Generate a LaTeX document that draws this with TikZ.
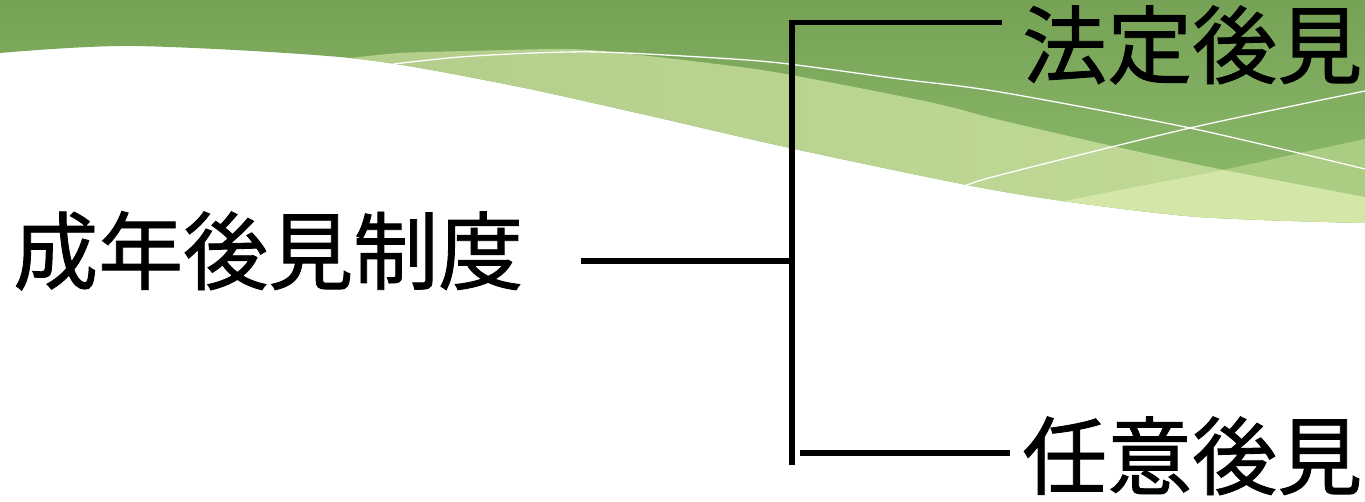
\documentclass[tikz,border=0pt]{standalone}
\usepackage{fontspec}
\newfontfamily\jp[FakeBold=1]{Noto Sans CJK JP}
\definecolor{dkA}{HTML}{76A256}
\definecolor{dkB}{HTML}{8EBC6C}
\definecolor{lgA}{HTML}{B3CE8A}
\definecolor{lgB}{HTML}{C1DA98}
\definecolor{regc}{HTML}{AACD83}
\definecolor{lightest}{HTML}{D4E7A8}
\begin{document}
\begin{tikzpicture}[x=1pt,y=-1pt,
  lbl/.style={font=\jp\fontsize{85}{85}\selectfont, inner sep=0pt, anchor=base west},
  conn/.style={line width=5.2pt, line cap=butt, line join=miter},
  wline/.style={white, line width=1.3pt}]
\useasboundingbox (0,0) rectangle (1365,501);
% dark green wave
\shade[top color=dkA, bottom color=dkB] (0,0) -- (1365,0) -- plot[smooth] coordinates {(1365,223) (1200,217) (1063,201) (967,185) (790,148) (633,112) (500,83) (350,58) (134,46) (0,53)} -- cycle;
\begin{scope}
\clip (0,0) -- (1365,0) -- plot[smooth] coordinates {(1365,223) (1200,217) (1063,201) (967,185) (790,148) (633,112) (500,83) (350,58) (134,46) (0,53)} -- cycle;
% light band
\shade[left color=lgA, right color=lgB] plot[smooth] coordinates {(320,61) (350,58) (400,53) (467,51) (567,49) (620,53) (700,62) (780,73) (929,102) (1000,120) (1117,147) (1224,170) (1365,197)} -- (1365,320) -- (320,320) -- cycle;
% rising band
\fill[regc] plot[smooth] coordinates {(1000,213) (1063,201) (1150,184) (1223,170) (1300,153) (1365,139)} -- (1365,320) -- (1000,320) -- cycle;
\begin{scope}
\clip plot[smooth] coordinates {(320,61) (350,58) (400,53) (467,51) (567,49) (620,53) (700,62) (780,73) (929,102) (1000,120) (1117,147) (1224,170) (1365,197)} -- (1365,320) -- (320,320) -- cycle;
\fill[lightest] plot[smooth] coordinates {(1000,213) (1063,201) (1150,184) (1223,170) (1300,153) (1365,139)} -- (1365,320) -- (1000,320) -- cycle;
\end{scope}
% thin white lines
\draw[wline] plot[smooth] coordinates {(380,66) (393,64) (460,57) (533,53) (600,52) (700,57) (780,63) (900,79) (1000,92) (1190,128) (1365,169)};
\draw[wline] plot[smooth] coordinates {(940,192) (967,185) (1000,175) (1190,128) (1365,91)};
\end{scope}
% texts
\node[lbl] (root) at (13,283) {成年後見制度};
\node[lbl] (legal) at (1022,77) {法定後見};
\node[lbl] (vol) at (1022,488) {任意後見};
% connectors
\coordinate (rootend) at (581,261);
\coordinate (jmid) at (792,261);
\coordinate (jtop) at (792,22.5);
\coordinate (jbot) at (792,465);
\coordinate (legalin) at (1002,22.5);
\coordinate (volout) at (800,453);
\coordinate (volin) at (1010,453);
\draw[conn] (rootend) -- (jmid);
\draw[conn] (legalin) -- (jtop) -- (jbot);
\draw[conn] (volout) -- (volin);
\end{tikzpicture}
\end{document}
